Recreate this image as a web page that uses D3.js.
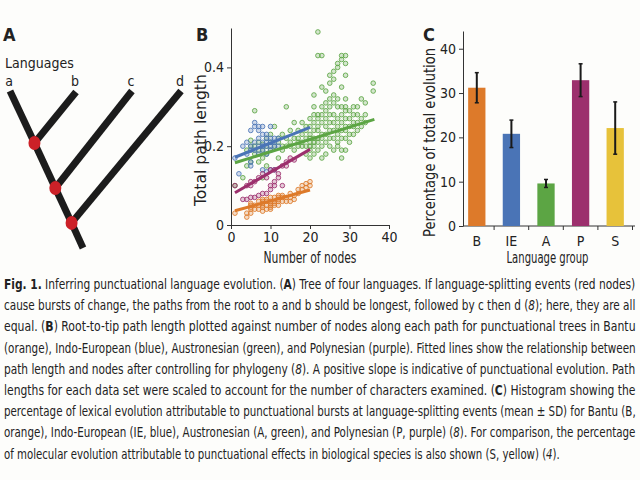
<!DOCTYPE html>
<html>
<head>
<meta charset="utf-8">
<script src="https://cdn.jsdelivr.net/npm/d3@7"></script>
<style>
  html, body { margin: 0; padding: 0; background: #fdfdfb; }
  svg { display: block; }
  text { fill: #222; }
</style>
</head>
<body>
<svg id="fig" width="640" height="480"></svg>
<script>
// ---------- Panel A: tree of four languages (abstract tree space 0..1) ----------
const tipNames = ['a', 'b', 'c', 'd'];
const treeNodes = [
  { id: 'a', x: 0, y: 0 }, { id: 'b', x: 0.386, y: 0.006 },
  { id: 'c', x: 0.713, y: 0 }, { id: 'd', x: 1, y: 0 },
  { id: 'n1', x: 0.143, y: 0.331 }, { id: 'n2', x: 0.265, y: 0.618 },
  { id: 'n3', x: 0.36, y: 0.84 }, { id: 'root', x: 0.427, y: 1 }
];
const treeEdges = [['a', 'n1'], ['b', 'n1'], ['n1', 'n2'], ['c', 'n2'], ['n2', 'n3'], ['d', 'n3'], ['n3', 'root']];
const splitNodes = ['n1', 'n2', 'n3'];

// ---------- Panel B: path length vs number of nodes ----------
// columns: [number of nodes, [path lengths...]]
const bantuCols = [
  [1, [0.03]], [4, [0.02, 0.03]], [5, [0.03, 0.04, 0.045, 0.05, 0.055]], [6, [0.04, 0.05]],
  [7, [0.04, 0.05, 0.06]], [8, [0.035, 0.045, 0.05, 0.055, 0.06, 0.065]], [9, [0.04, 0.05, 0.06, 0.065]],
  [10, [0.04, 0.045, 0.05, 0.055, 0.06, 0.07]], [11, [0.05, 0.055, 0.06, 0.07]], [12, [0.05, 0.06, 0.065, 0.07, 0.075]],
  [13, [0.06, 0.07, 0.075]], [14, [0.06, 0.07]], [15, [0.06, 0.07, 0.08]], [16, [0.065, 0.075]],
  [17, [0.08, 0.09]], [18, [0.09, 0.1]], [19, [0.095, 0.105]], [20, [0.1, 0.11]]
];
const ieCols = [
  [1, [0.17]], [2, [0.13]], [3, [0.2]], [4, [0.18, 0.21]], [5, [0.15, 0.16, 0.19, 0.2, 0.24]],
  [6, [0.19, 0.21, 0.25, 0.26]], [7, [0.18, 0.2, 0.22, 0.24, 0.25]], [8, [0.14, 0.19, 0.2, 0.21, 0.23, 0.25]],
  [9, [0.135, 0.18, 0.2, 0.21, 0.22, 0.23]], [10, [0.14, 0.19, 0.2, 0.21, 0.22, 0.25]],
  [11, [0.14, 0.2, 0.21, 0.22]], [12, [0.2, 0.22]]
];
const austroCols = [
  [1, [0.1]], [3, [0.12]], [4, [0.15, 0.19]], [5, [0.16, 0.2, 0.215]], [6, [0.18, 0.2, 0.29]],
  [7, [0.16, 0.19, 0.21]], [8, [0.12, 0.17, 0.19, 0.205]], [9, [0.15, 0.18, 0.2, 0.22]],
  [10, [0.19, 0.21, 0.23]], [11, [0.2, 0.25]], [12, [0.17, 0.21, 0.22]], [13, [0.19, 0.2, 0.23]],
  [14, [0.2, 0.22, 0.3]], [15, [0.2, 0.21, 0.24]], [16, [0.19, 0.22, 0.26]], [17, [0.2, 0.21, 0.22, 0.24]],
  [18, [0.2, 0.21, 0.23, 0.26]], [19, [0.18, 0.2, 0.22, 0.24, 0.25]],
  [20, [0.17, 0.19, 0.2, 0.21, 0.22, 0.23, 0.25, 0.27]],
  [21, [0.18, 0.2, 0.21, 0.22, 0.24, 0.26, 0.28, 0.3, 0.33]],
  [22, [0.19, 0.21, 0.22, 0.24, 0.25, 0.27, 0.28, 0.43, 0.49]],
  [23, [0.17, 0.2, 0.22, 0.23, 0.26, 0.28, 0.3, 0.35, 0.43]],
  [24, [0.18, 0.21, 0.23, 0.25, 0.27, 0.29, 0.31, 0.34]],
  [25, [0.2, 0.22, 0.24, 0.26, 0.28, 0.3, 0.32, 0.36, 0.38]],
  [26, [0.19, 0.22, 0.24, 0.26, 0.28, 0.31, 0.33, 0.37, 0.39]],
  [27, [0.2, 0.21, 0.23, 0.25, 0.27, 0.3, 0.32, 0.4, 0.41]],
  [28, [0.17, 0.19, 0.22, 0.24, 0.26, 0.28, 0.3, 0.35, 0.42, 0.43]],
  [29, [0.19, 0.22, 0.24, 0.25, 0.27, 0.29, 0.3, 0.32, 0.38, 0.41, 0.43]],
  [30, [0.21, 0.23, 0.25, 0.27, 0.29]], [31, [0.23, 0.25, 0.26, 0.28, 0.3]],
  [32, [0.24, 0.26, 0.28, 0.3]], [33, [0.25, 0.27, 0.32]], [34, [0.26, 0.28, 0.31]], [36, [0.34, 0.36]]
];
const polyCols = [
  [1, [0.1]], [3, [0.065]], [4, [0.065, 0.1]], [5, [0.07, 0.1, 0.11]], [6, [0.07, 0.11]],
  [7, [0.075, 0.12]], [8, [0.08, 0.13]], [9, [0.08, 0.12]], [10, [0.09, 0.1, 0.14]],
  [11, [0.1, 0.11, 0.14]], [12, [0.12, 0.13]], [13, [0.1, 0.15]], [14, [0.15, 0.16]], [15, [0.17]], [16, [0.165]]
];
// fitted lines: [x0, y0, x1, y1]
const bantuFit = [1, 0.036, 20, 0.089];
const ieFit = [1, 0.172, 20, 0.248];
const austroFit = [1, 0.158, 36.3, 0.268];
const polyFit = [1, 0.082, 20, 0.192];
const xTicksB = [0, 10, 20, 30, 40];
const yTicksB = [0, 0.2, 0.4];

// ---------- Panel C: percentage of total evolution ----------
const groups = ['B', 'IE', 'A', 'P', 'S'];
const pctMean = [31.2, 20.8, 9.6, 32.9, 22.1];
const pctSD = [3.4, 3.1, 0.9, 3.7, 5.9];
const yTicksC = [0, 10, 20, 30, 40];

const colors = { B: '#dd7a2a', IE: '#4a74b6', A: '#5ca544', P: '#9c2f6d', S: '#e7c23a' };

// ---------- Caption (**bold**, _italic_) ----------
const captionLines = [
  '**Fig. 1.** Inferring punctuational language evolution. (**A**) Tree of four languages. If language-splitting events (red nodes)',
  'cause bursts of change, the paths from the root to a and b should be longest, followed by c then d (_8_); here, they are all',
  'equal. (**B**) Root-to-tip path length plotted against number of nodes along each path for punctuational trees in Bantu',
  '(orange), Indo-European (blue), Austronesian (green), and Polynesian (purple). Fitted lines show the relationship between',
  'path length and nodes after controlling for phylogeny (_8_). A positive slope is indicative of punctuational evolution. Path',
  'lengths for each data set were scaled to account for the number of characters examined. (**C**) Histogram showing the',
  'percentage of lexical evolution attributable to punctuational bursts at language-splitting events (mean ± SD) for Bantu (B,',
  'orange), Indo-European (IE, blue), Austronesian (A, green), and Polynesian (P, purple) (_8_). For comparison, the percentage',
  'of molecular evolution attributable to punctuational effects in biological species is also shown (S, yellow) (_4_).'
];

const NARROW = '"Liberation Sans Narrow", "DejaVu Sans Condensed", "Liberation Sans", sans-serif';
const svg = d3.select('#fig');

// panel letters
[['A', 3], ['B', 196], ['C', 423]].forEach(([t, x]) => {
  svg.append('text').attr('x', x).attr('y', 41)
    .attr('font-family', NARROW).attr('font-weight', 'bold').attr('font-size', 18).text(t);
});

// ===== Panel A =====
const tx = d3.scaleLinear().domain([0, 1]).range([10, 181]);
const ty = d3.scaleLinear().domain([0, 1]).range([91, 248]);
const nodeById = new Map(treeNodes.map(n => [n.id, n]));
const gA = svg.append('g');

gA.append('text').attr('x', 5).attr('y', 68)
  .attr('font-family', NARROW).attr('font-size', 14).text('Languages');

gA.selectAll('line.branch').data(treeEdges).join('line')
  .attr('class', 'branch')
  .attr('x1', d => tx(nodeById.get(d[0]).x)).attr('y1', d => ty(nodeById.get(d[0]).y))
  .attr('x2', d => tx(nodeById.get(d[1]).x)).attr('y2', d => ty(nodeById.get(d[1]).y))
  .attr('stroke', '#1c1c1c').attr('stroke-width', 7).attr('stroke-linecap', 'butt');

gA.selectAll('ellipse').data(splitNodes).join('ellipse')
  .attr('cx', d => tx(nodeById.get(d).x)).attr('cy', d => ty(nodeById.get(d).y))
  .attr('rx', 6).attr('ry', 7).attr('fill', '#cc2128');

gA.selectAll('text.tip').data(tipNames).join('text')
  .attr('class', 'tip')
  .attr('x', d => tx(nodeById.get(d).x) - 1).attr('y', 86)
  .attr('text-anchor', 'middle')
  .attr('font-family', NARROW).attr('font-size', 14).text(d => d);

// ===== Panel B =====
const xB = d3.scaleLinear().domain([0, 40]).range([231, 389]);
const yB = d3.scaleLinear().domain([0, 0.5]).range([225, 28]);
const gB = svg.append('g');

const xAxisB = gB.append('g').attr('transform', `translate(0,${yB(0)})`)
  .call(d3.axisBottom(xB).tickValues(xTicksB).tickSize(4).tickSizeOuter(0).tickPadding(3));
const yAxisB = gB.append('g').attr('transform', `translate(${xB(0)},0)`)
  .call(d3.axisLeft(yB).tickValues(yTicksB).tickSize(4).tickSizeOuter(0).tickPadding(3)
    .tickFormat(d => d === 0 ? '0' : d3.format('.1f')(d)));

const series = [
  { key: 'A', cols: austroCols, fit: austroFit },
  { key: 'IE', cols: ieCols, fit: ieFit },
  { key: 'P', cols: polyCols, fit: polyFit },
  { key: 'B', cols: bantuCols, fit: bantuFit }
];
series.forEach(s => {
  const pts = s.cols.flatMap(([x, ys]) => ys.map(y => [x, y]));
  gB.append('g').selectAll('circle').data(pts).join('circle')
    .attr('cx', d => xB(d[0])).attr('cy', d => yB(d[1])).attr('r', 2.3)
    .attr('fill', colors[s.key]).attr('fill-opacity', 0.25)
    .attr('stroke', colors[s.key]).attr('stroke-opacity', 0.85).attr('stroke-width', 1);
});
series.forEach(s => {
  gB.append('line')
    .attr('x1', xB(s.fit[0])).attr('y1', yB(s.fit[1]))
    .attr('x2', xB(s.fit[2])).attr('y2', yB(s.fit[3]))
    .attr('stroke', colors[s.key]).attr('stroke-width', 3);
});

// stretch/squeeze a text horizontally to a target width (keeps its bbox honest)
function fitWidth(sel, width) {
  const natural = sel.node().getComputedTextLength();
  const k = width / natural;
  const prev = sel.attr('transform') || '';
  sel.attr('transform', `${prev} scale(${k},1)`);
}

const titleB = gB.append('text').attr('transform', `translate(${(xB.range()[0] + xB.range()[1]) / 2},263)`)
  .attr('text-anchor', 'middle').attr('font-family', NARROW).attr('font-size', 15).text('Number of nodes');
fitWidth(titleB, 93);
const ylabB = gB.append('text').attr('transform', 'translate(206,140) rotate(-90)')
  .attr('text-anchor', 'middle').attr('font-family', NARROW).attr('font-size', 15).text('Total path length');
fitWidth(ylabB, 132);

// ===== Panel C =====
const xC = d3.scaleBand().domain(groups).range([459.5, 632.5]).paddingInner(0.5).paddingOuter(0.25);
const yC = d3.scaleLinear().domain([0, 44]).range([226, 31]);
const axisXC = 463;
const gC = svg.append('g');

const yAxisC = gC.append('g').attr('transform', `translate(${axisXC},0)`)
  .call(d3.axisLeft(yC).tickValues(yTicksC).tickSize(4).tickSizeOuter(0).tickPadding(3));

const xAxisC = gC.append('g').attr('transform', `translate(0,${yC(0)})`);
xAxisC.append('line').attr('x1', axisXC).attr('x2', 635).attr('stroke', '#333');
const step = xC.step();
const bounds = groups.map((g, i) => xC.range()[0] + (i + 1) * step);
xAxisC.selectAll('line.tick').data(bounds).join('line').attr('class', 'tick')
  .attr('x1', d => d).attr('x2', d => d).attr('y1', 0).attr('y2', 4).attr('stroke', '#333');
xAxisC.selectAll('text').data(groups).join('text')
  .attr('x', d => xC(d) + xC.bandwidth() / 2).attr('y', 20)
  .attr('text-anchor', 'middle').attr('font-family', NARROW).attr('font-size', 14).text(d => d);

gC.selectAll('rect.bar').data(groups).join('rect').attr('class', 'bar')
  .attr('x', d => xC(d)).attr('width', xC.bandwidth())
  .attr('y', (d, i) => yC(pctMean[i])).attr('height', (d, i) => yC(0) - yC(pctMean[i]))
  .attr('fill', d => colors[d]);

const err = gC.selectAll('g.err').data(groups).join('g').attr('class', 'err');
err.append('line')
  .attr('x1', d => xC(d) + xC.bandwidth() / 2).attr('x2', d => xC(d) + xC.bandwidth() / 2)
  .attr('y1', (d, i) => yC(pctMean[i] - pctSD[i])).attr('y2', (d, i) => yC(pctMean[i] + pctSD[i]))
  .attr('stroke', '#1a1a1a').attr('stroke-width', 2);
[-1, 1].forEach(sgn => {
  err.append('line')
    .attr('x1', d => xC(d) + xC.bandwidth() / 2 - 2).attr('x2', d => xC(d) + xC.bandwidth() / 2 + 2)
    .attr('y1', (d, i) => yC(pctMean[i] + sgn * pctSD[i])).attr('y2', (d, i) => yC(pctMean[i] + sgn * pctSD[i]))
    .attr('stroke', '#1a1a1a').attr('stroke-width', 1.5);
});

const titleC = gC.append('text').attr('transform', 'translate(547.5,263)')
  .attr('text-anchor', 'middle').attr('font-family', NARROW).attr('font-size', 15).text('Language group');
fitWidth(titleC, 82);
const ylabC = gC.append('text').attr('transform', 'translate(435,142.5) rotate(-90)')
  .attr('text-anchor', 'middle').attr('font-family', NARROW).attr('font-size', 15).text('Percentage of total evolution');
fitWidth(ylabC, 189);

// common axis styling
[xAxisB, yAxisB, yAxisC].forEach(a => {
  a.selectAll('path.domain').attr('stroke', '#333');
  a.selectAll('.tick line').attr('stroke', '#333');
  a.selectAll('.tick text').attr('font-family', NARROW).attr('font-size', 14).attr('fill', '#222');
});

// ===== Caption =====
const gCap = svg.append('g').attr('font-family', NARROW).attr('font-size', 14.5);
captionLines.forEach((line, i) => {
  const t = gCap.append('text').attr('transform', `translate(4,${289 + i * 21.2})`);
  line.split(/(\*\*[^*]+\*\*|_[^_]+_)/).filter(s => s.length).forEach(seg => {
    const sp = t.append('tspan');
    if (seg.startsWith('**')) sp.attr('font-weight', 'bold').text(seg.slice(2, -2));
    else if (seg.startsWith('_')) sp.attr('font-style', 'italic').text(seg.slice(1, -1));
    else sp.text(seg);
  });
  fitWidth(t, i === captionLines.length - 1 ? 556 : 632);
});
</script>
</body>
</html>
